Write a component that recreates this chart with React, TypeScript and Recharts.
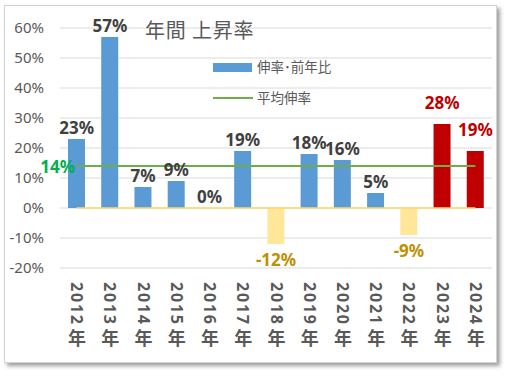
import React from 'react';
import {
  ComposedChart,
  Bar,
  Line,
  XAxis,
  YAxis,
  CartesianGrid,
  Cell,
  LabelList,
  Legend,
} from 'recharts';

const years = ['2012年', '2013年', '2014年', '2015年', '2016年', '2017年', '2018年', '2019年', '2020年', '2021年', '2022年', '2023年', '2024年'];
const growth = [23, 57, 7, 9, 0, 19, -12, 18, 16, 5, -9, 28, 19];
const averageRate = 14;
const highlightedYears = ['2023年', '2024年'];
const yTicks = [-20, -10, 0, 10, 20, 30, 40, 50, 60];
const titleText = '年間 上昇率';
const legendBarLabel = '伸率･前年比';
const legendLineLabel = '平均伸率';

const data = years.map((year, i) => ({
  year,
  growth: growth[i],
  avg: averageRate,
  zero: 0,
}));

const BLUE = '#5B9BD5';
const RED = '#C00000';
const NEG = '#FFE699';
const GREEN = '#70AD47';
const ZERO = '#FFD966';
const TEXT = '#595959';
const LATIN = '"Noto Sans", "DejaVu Sans", sans-serif';
const CJK = '"Noto Sans CJK JP", "Noto Sans", sans-serif';

const barColor = (i: number) => {
  if (highlightedYears.includes(years[i])) return RED;
  if (growth[i] < 0) return NEG;
  return BLUE;
};

// Labels are attached to an invisible line over the growth values so that
// every category (including the 0% one) gets its label at the bar end.
const BarLabel = (props: any) => {
  const { x, y, index } = props;
  const v = growth[index];
  const hi = highlightedYears.includes(years[index]);
  let cy: number;
  let fill: string;
  if (v < 0) {
    cy = y + 15;
    fill = '#BF9000';
  } else if (hi) {
    cy = y - 22;
    fill = RED;
  } else {
    cy = y - 12;
    fill = '#404040';
  }
  return (
    <text
      x={x}
      y={cy}
      textAnchor="middle"
      dominantBaseline="central"
      fontFamily={LATIN}
      fontWeight="bold"
      fontSize={17}
      fill={fill}
    >
      {`${v}%`}
    </text>
  );
};

const AvgLabel = (props: any) => {
  const { x, y, index } = props;
  if (index !== 0) return null;
  return (
    <text
      x={x - 19}
      y={y}
      textAnchor="middle"
      dominantBaseline="central"
      fontFamily={LATIN}
      fontWeight="bold"
      fontSize={17}
      fill="#00B050"
    >
      {`${averageRate}%`}
    </text>
  );
};

const XTick = (props: any) => {
  const { x, y, payload } = props;
  const label: string = payload.value;
  const digits = label.replace('年', '');
  return (
    <g transform={`translate(${x},${y})`}>
      <text
        transform="rotate(90)"
        x={14}
        y={5.5}
        fontFamily={LATIN}
        fontWeight="bold"
        fontSize={16}
        letterSpacing={1.8}
        fill={TEXT}
      >
        {digits}
      </text>
      <text
        x={0.5}
        y={77}
        textAnchor="middle"
        fontFamily={CJK}
        fontWeight="bold"
        fontSize={18}
        fill={TEXT}
      >
        年
      </text>
    </g>
  );
};

const LegendContent = () => (
  <div style={{ fontFamily: CJK, fontSize: 13.5, color: TEXT, lineHeight: '1' }}>
    <div style={{ display: 'flex', alignItems: 'center', height: 18 }}>
      <div style={{ width: 39, height: 9, background: BLUE, marginRight: 5 }} />
      <span>{legendBarLabel}</span>
    </div>
    <div style={{ display: 'flex', alignItems: 'center', height: 18, marginTop: 13 }}>
      <div style={{ width: 40, height: 2.5, background: GREEN, marginRight: 4 }} />
      <span>{legendLineLabel}</span>
    </div>
  </div>
);

export default function App() {
  return (
    <div style={{ position: 'absolute', left: 0, top: 0, width: 508, height: 376, background: '#fff' }}>
      <div
        style={{
          position: 'absolute',
          left: 4,
          top: 5,
          width: 491,
          height: 356,
          background: '#fff',
          border: '1px solid #D4D4D4',
          boxShadow: '3px 3px 4px rgba(0,0,0,0.38)',
        }}
      />
      <div style={{ position: 'absolute', left: 0, top: 0 }}>
        <ComposedChart
          width={508}
          height={376}
          data={data}
          margin={{ top: 28, right: 16, left: 0, bottom: 18 }}
        >
          <CartesianGrid horizontal vertical={false} stroke="#D9D9D9" strokeWidth={1} />
          <XAxis
            dataKey="year"
            axisLine={false}
            tickLine={false}
            tickSize={0}
            tickMargin={0}
            height={90}
            interval={0}
            tick={<XTick />}
          />
          <YAxis
            domain={[-20, 60]}
            ticks={yTicks}
            width={60}
            axisLine={false}
            tickLine={false}
            tickSize={0}
            tickMargin={16}
            tickFormatter={(v: number) => `${v}%`}
            tick={{ fill: TEXT, fontSize: 15, fontFamily: LATIN }}
          />
          <Legend
            layout="vertical"
            align="center"
            verticalAlign="middle"
            content={<LegendContent />}
            wrapperStyle={{ left: 213, top: 58, width: 'auto', height: 'auto' }}
          />
          <Bar dataKey="growth" barSize={17} isAnimationActive={false}>
            {data.map((_, i) => (
              <Cell key={i} fill={barColor(i)} />
            ))}
          </Bar>
          <Line
            dataKey="zero"
            stroke={ZERO}
            strokeWidth={1.5}
            dot={false}
            activeDot={false}
            isAnimationActive={false}
            legendType="none"
          />
          <Line
            dataKey="avg"
            stroke={GREEN}
            strokeWidth={2}
            dot={false}
            activeDot={false}
            isAnimationActive={false}
          >
            <LabelList dataKey="avg" content={<AvgLabel />} />
          </Line>
          <Line
            dataKey="growth"
            stroke="none"
            dot={false}
            activeDot={false}
            isAnimationActive={false}
            legendType="none"
          >
            <LabelList dataKey="growth" content={<BarLabel />} />
          </Line>
        </ComposedChart>
      </div>
      <div
        style={{
          position: 'absolute',
          left: 145,
          top: 20,
          fontFamily: CJK,
          fontSize: 20,
          fontWeight: 400,
          letterSpacing: 0.8,
          lineHeight: '1',
          color: TEXT,
          whiteSpace: 'nowrap',
        }}
      >
        {titleText}
      </div>
    </div>
  );
}
